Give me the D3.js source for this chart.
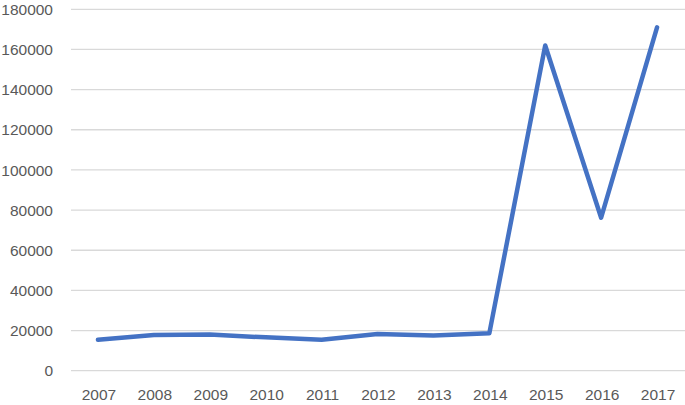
<!DOCTYPE html>
<html>
<head>
<meta charset="utf-8">
<script src="https://cdn.jsdelivr.net/npm/d3@7"></script>
<style>
  body { margin: 0; background: #fff; }
  text { font-family: "Liberation Sans", Arial, sans-serif; }
</style>
</head>
<body>
<div id="chart"></div>
<script>
var years = ["2007","2008","2009","2010","2011","2012","2013","2014","2015","2016","2017"];
var values = [15400, 17800, 18000, 16600, 15400, 18300, 17500, 18600, 162000, 76200, 171000];
var yTicks = [0, 20000, 40000, 60000, 80000, 100000, 120000, 140000, 160000, 180000];

var w = 685, h = 405;
var plotLeft = 70, plotRight = 685, plotTop = 9.3, plotBottom = 370.7;

var svg = d3.select("#chart").append("svg")
  .attr("width", w)
  .attr("height", h);

var x = d3.scaleBand().domain(years).range([plotLeft, plotRight]);
var y = d3.scaleLinear().domain([0, 180000]).range([plotBottom, plotTop]);

// gridlines
svg.append("g")
  .selectAll("line")
  .data(yTicks)
  .enter().append("line")
  .attr("x1", plotLeft + 1)
  .attr("x2", plotRight)
  .attr("y1", function(d){ return y(d); })
  .attr("y2", function(d){ return y(d); })
  .style("stroke", "#d9d9d9")
  .style("stroke-width", 1.3);

// y labels
svg.append("g")
  .selectAll("text")
  .data(yTicks)
  .enter().append("text")
  .attr("x", 53)
  .attr("y", function(d){ return y(d); })
  .attr("dy", ".36em")
  .attr("text-anchor", "end")
  .attr("font-size", 15.5)
  .style("fill", "#595959")
  .text(function(d){ return d; });

// x labels
svg.append("g")
  .selectAll("text")
  .data(years)
  .enter().append("text")
  .attr("x", function(d){ return x(d) + x.bandwidth() / 2 + 1; })
  .attr("y", 400)
  .attr("text-anchor", "middle")
  .attr("font-size", 15.5)
  .style("fill", "#595959")
  .text(function(d){ return d; });

var line = d3.line()
  .x(function(d, i){ return x(years[i]) + x.bandwidth() / 2; })
  .y(function(d){ return y(d); });

svg.append("path")
  .datum(values)
  .attr("d", line)
  .style("fill", "none")
  .style("stroke", "#4472c4")
  .style("stroke-width", 4.5)
  .style("stroke-linejoin", "round")
  .style("stroke-linecap", "round");
</script>
</body>
</html>
